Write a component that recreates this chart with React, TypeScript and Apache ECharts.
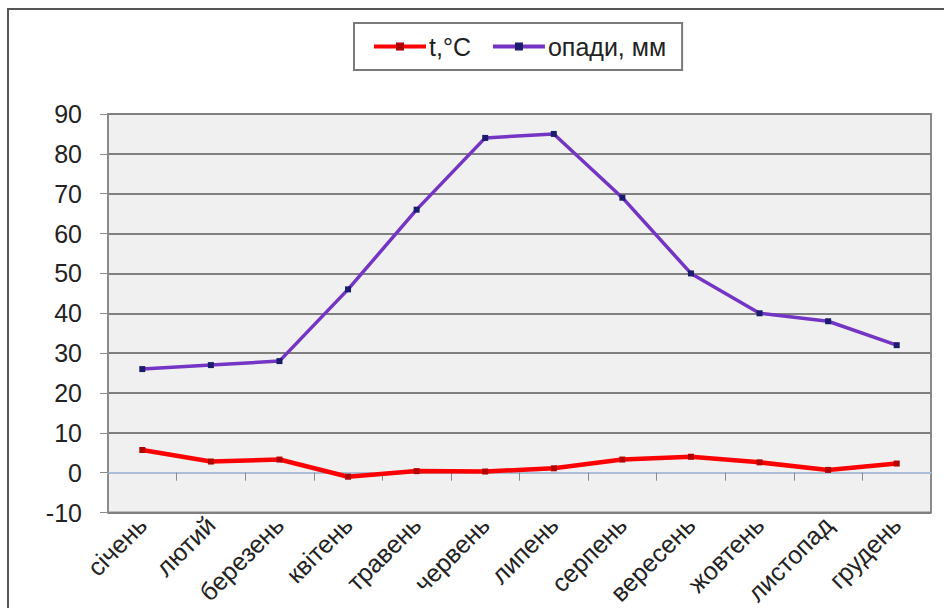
import React, { useEffect, useRef } from "react";
import * as echarts from "echarts";

const months = [
  "січень", "лютий", "березень", "квітень", "травень", "червень",
  "липень", "серпень", "вересень", "жовтень", "листопад", "грудень",
];
const temperature = [5.7, 2.8, 3.3, -1.0, 0.4, 0.3, 1.1, 3.3, 4.0, 2.6, 0.7, 2.3];
const precipitation = [26, 27, 28, 46, 66, 84, 85, 69, 50, 40, 38, 32];
const tempName = "t,°C";
const precName = "опади, мм";

const FONT = "'Liberation Sans', Arial, sans-serif";

export default function App() {
  const ref = useRef<HTMLDivElement>(null);

  useEffect(() => {
    if (!ref.current) return;
    const chart = echarts.init(ref.current, undefined, { renderer: "svg" });
    chart.setOption({
      animation: false,
      backgroundColor: "#ffffff",
      textStyle: { fontFamily: FONT },
      graphic: [
        {
          type: "rect",
          z: -10,
          silent: true,
          shape: { x: 8, y: 9, width: 1000, height: 1000 },
          style: { fill: "none", stroke: "#555555", lineWidth: 2 },
        },
      ],
      legend: {
        left: 354,
        top: 23,
        padding: [11, 16, 11, 18],
        itemGap: 20,
        itemWidth: 52,
        itemHeight: 10,
        borderColor: "#7a7a7a",
        borderWidth: 2,
        backgroundColor: "#ffffff",
        lineStyle: { width: 4 },
        textStyle: { fontFamily: FONT, fontSize: 25, color: "#222222", padding: [0, 0, 0, -2] },
        data: [tempName, precName],
      },
      grid: {
        left: 108,
        width: 823,
        top: 114,
        height: 401,
        show: true,
        backgroundColor: "#f0f0f0",
        borderColor: "#8a8a8a",
        borderWidth: 2,
      },
      xAxis: [
        {
          type: "category",
          data: months,
          boundaryGap: true,
          position: "bottom",
          axisLine: { show: false, onZero: false },
          axisTick: { show: false },
          axisLabel: {
            rotate: 45,
            interval: 0,
            margin: 8,
            fontSize: 25,
            color: "#222222",
            fontFamily: FONT,
          },
          splitLine: { show: false },
        },
        {
          type: "category",
          data: months,
          boundaryGap: true,
          position: "bottom",
          axisLine: { show: true, onZero: true, lineStyle: { color: "#a9bfd6", width: 2 } },
          axisTick: { show: true, length: 8, lineStyle: { color: "#8a8a8a", width: 1 } },
          axisLabel: { show: false },
          splitLine: { show: false },
        },
      ],
      yAxis: {
        type: "value",
        min: -10,
        max: 90,
        interval: 10,
        axisLine: { show: true, lineStyle: { color: "#8a8a8a", width: 2 } },
        axisTick: { show: true, length: 8, lineStyle: { color: "#8a8a8a", width: 1 } },
        axisLabel: { fontSize: 25, color: "#222222", margin: 26, fontFamily: FONT },
        splitLine: { show: true, lineStyle: { color: "#7f7f7f", width: 2 } },
      },
      series: [
        {
          name: tempName,
          type: "line",
          data: temperature,
          symbol: "rect",
          symbolSize: 6,
          itemStyle: { color: "#b00000" },
          lineStyle: { color: "#ff0000", width: 4.5 },
          z: 3,
        },
        {
          name: precName,
          type: "line",
          data: precipitation,
          symbol: "rect",
          symbolSize: 6,
          itemStyle: { color: "#1c1c6e" },
          lineStyle: { color: "#7434c4", width: 3.5 },
          z: 3,
        },
      ],
    });
    return () => chart.dispose();
  }, []);

  return (
    <div
      ref={ref}
      style={{ position: "fixed", left: 0, top: 0, width: 944, height: 608 }}
    />
  );
}
